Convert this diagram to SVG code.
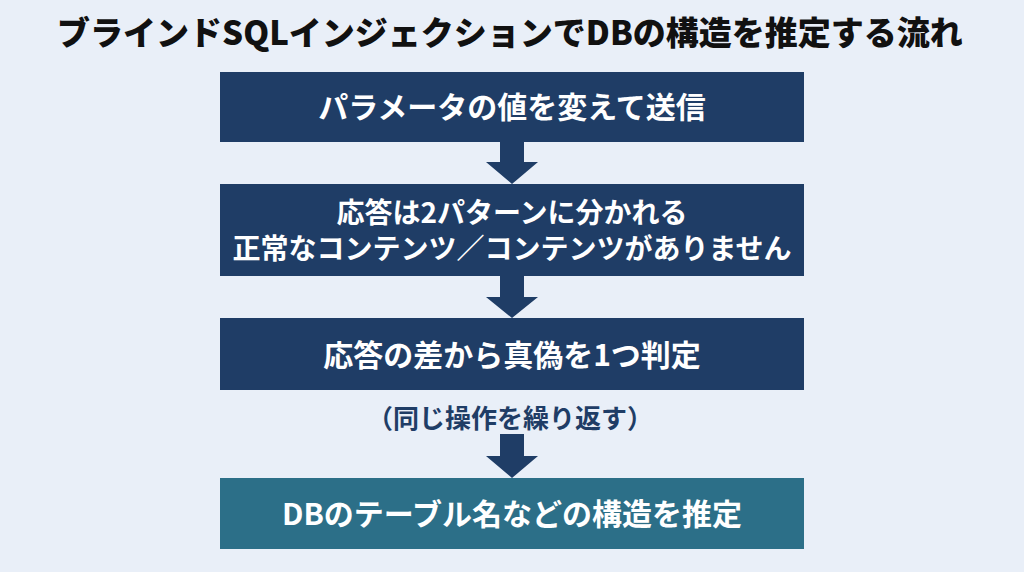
<svg xmlns="http://www.w3.org/2000/svg" width="1024" height="572" viewBox="0 0 1024 572">
  <style>
    .title { font-family: "Noto Sans CJK JP", "Noto Sans", sans-serif; font-weight: 900; font-size: 33px; fill: #111111; }
    .box { fill: #1f3d66; }
    .box-final { fill: #2c6f88; }
    .label { font-family: "Noto Sans CJK JP", "Noto Sans", sans-serif; font-weight: 700; font-size: 30px; fill: #ffffff; }
    .label2 { font-family: "Noto Sans CJK JP", "Noto Sans", sans-serif; font-weight: 700; font-size: 28px; fill: #ffffff; }
    .note { font-family: "Noto Sans CJK JP", "Noto Sans", sans-serif; font-weight: 700; font-size: 26px; fill: #1f3d66; }
    .arrow { fill: #1f3d66; }
  </style>
  <rect x="0" y="0" width="1024" height="572" fill="#e9eff8"/>
  <text class="title" x="510" y="45" text-anchor="middle">ブラインドSQLインジェクションでDBの構造を推定する流れ</text>

  <g id="connectors">
    <polygon class="arrow" points="500,142 524,142 524,162 538,162 512,184 486,162 500,162"/>
    <polygon class="arrow" points="500,276 524,276 524,297 538,297 512,318 486,297 500,297"/>
    <polygon class="arrow" points="500,434 524,434 524,456 538,456 512,478 486,456 500,456"/>
  </g>

  <g id="step1">
    <rect class="box" x="220" y="72" width="584" height="70"/>
    <text class="label" x="512" y="118" text-anchor="middle">パラメータの値を変えて送信</text>
  </g>

  <g id="step2">
    <rect class="box" x="220" y="184" width="584" height="92"/>
    <text class="label2" x="512" y="223" text-anchor="middle">応答は2パターンに分かれる</text>
    <text class="label2" x="512" y="259" text-anchor="middle">正常なコンテンツ／コンテンツがありません</text>
  </g>

  <g id="step3">
    <rect class="box" x="220" y="318" width="584" height="72"/>
    <text class="label" x="512" y="366" text-anchor="middle">応答の差から真偽を1つ判定</text>
  </g>

  <g id="repeat-note">
    <text class="note" x="510" y="428" text-anchor="middle">（同じ操作を繰り返す）</text>
  </g>

  <g id="step4">
    <rect class="box-final" x="220" y="478" width="584" height="71"/>
    <text class="label" x="512" y="525" text-anchor="middle">DBのテーブル名などの構造を推定</text>
  </g>
</svg>
